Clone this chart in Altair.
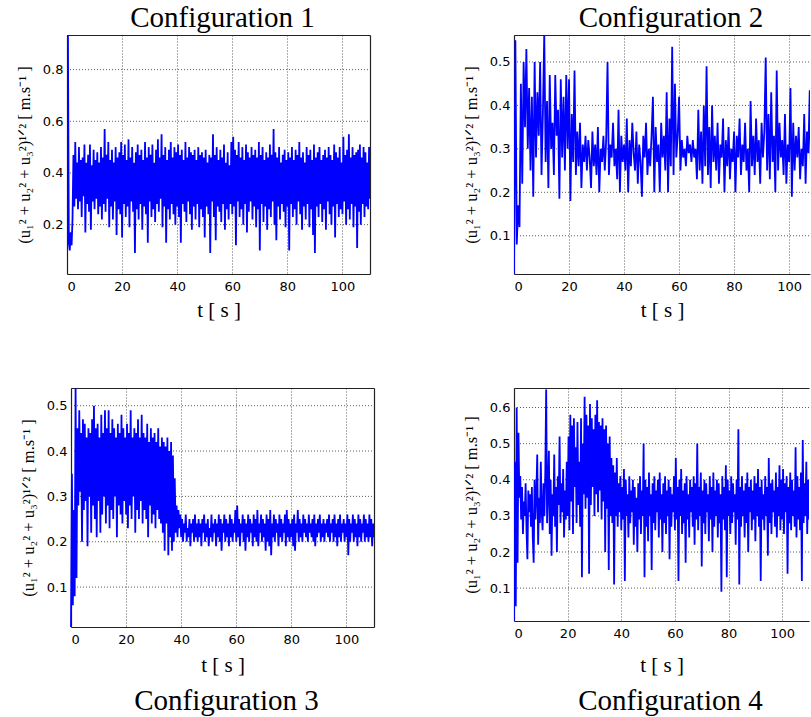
import altair as alt
import pandas as pd

# Velocity magnitude records, sampled uniformly over the run duration.
T_END = 110.0

config1 = [
    0.01, 0.94, 0.13, 0.10, 0.17, 0.12, 0.22, 0.47, 0.27, 0.52, 0.30, 0.44, 0.26, 0.50, 0.29, 0.45, 0.23, 0.46, 0.31, 0.51,
    0.17, 0.44, 0.28, 0.47, 0.25, 0.51, 0.18, 0.43, 0.29, 0.49, 0.26, 0.45, 0.30, 0.48, 0.24, 0.44, 0.27, 0.50, 0.22, 0.46,
    0.28, 0.57, 0.25, 0.47, 0.30, 0.52, 0.19, 0.45, 0.27, 0.49, 0.22, 0.44, 0.29, 0.50, 0.16, 0.46, 0.26, 0.48, 0.24, 0.52,
    0.15, 0.47, 0.28, 0.51, 0.23, 0.45, 0.27, 0.53, 0.19, 0.46, 0.29, 0.50, 0.25, 0.44, 0.09, 0.48, 0.26, 0.51, 0.22, 0.47,
    0.28, 0.49, 0.18, 0.45, 0.27, 0.52, 0.24, 0.46, 0.13, 0.50, 0.29, 0.47, 0.23, 0.51, 0.26, 0.44, 0.21, 0.49, 0.28, 0.53,
    0.25, 0.46, 0.30, 0.55, 0.19, 0.47, 0.27, 0.50, 0.13, 0.45, 0.26, 0.49, 0.22, 0.52, 0.28, 0.46, 0.24, 0.50, 0.20, 0.48,
    0.27, 0.51, 0.23, 0.47, 0.13, 0.49, 0.28, 0.45, 0.25, 0.52, 0.21, 0.46, 0.29, 0.50, 0.24, 0.48, 0.18, 0.47, 0.27, 0.49,
    0.22, 0.45, 0.28, 0.50, 0.19, 0.47, 0.26, 0.48, 0.23, 0.46, 0.15, 0.49, 0.27, 0.44, 0.24, 0.47, 0.09, 0.46, 0.29, 0.55,
    0.23, 0.47, 0.14, 0.50, 0.27, 0.45, 0.25, 0.49, 0.21, 0.46, 0.28, 0.51, 0.18, 0.44, 0.26, 0.48, 0.22, 0.43, 0.28, 0.52,
    0.24, 0.54, 0.27, 0.49, 0.12, 0.47, 0.29, 0.52, 0.23, 0.46, 0.26, 0.50, 0.20, 0.45, 0.28, 0.51, 0.17, 0.48, 0.25, 0.46,
    0.29, 0.50, 0.22, 0.47, 0.27, 0.49, 0.19, 0.46, 0.26, 0.52, 0.10, 0.47, 0.28, 0.50, 0.21, 0.45, 0.27, 0.48, 0.18, 0.46,
    0.26, 0.51, 0.23, 0.47, 0.29, 0.57, 0.20, 0.48, 0.14, 0.46, 0.27, 0.50, 0.22, 0.44, 0.28, 0.47, 0.25, 0.49, 0.19, 0.45,
    0.27, 0.48, 0.10, 0.46, 0.28, 0.50, 0.23, 0.45, 0.26, 0.49, 0.20, 0.47, 0.29, 0.52, 0.24, 0.46, 0.18, 0.48, 0.27, 0.44,
    0.22, 0.50, 0.28, 0.47, 0.19, 0.49, 0.26, 0.45, 0.16, 0.51, 0.09, 0.46, 0.27, 0.48, 0.23, 0.50, 0.28, 0.45, 0.21, 0.47,
    0.26, 0.49, 0.18, 0.46, 0.29, 0.50, 0.24, 0.47, 0.20, 0.45, 0.27, 0.51, 0.15, 0.48, 0.28, 0.46, 0.23, 0.50, 0.26, 0.44,
    0.24, 0.54, 0.29, 0.47, 0.20, 0.49, 0.26, 0.55, 0.22, 0.46, 0.28, 0.50, 0.19, 0.47, 0.27, 0.48, 0.11, 0.49, 0.25, 0.51,
    0.20, 0.46, 0.28, 0.50, 0.23, 0.48, 0.27, 0.44, 0.26, 0.50, 0.30,
]

config2 = [
    0.01, 0.55, 0.08, 0.17, 0.12, 0.45, 0.22, 0.50, 0.35, 0.53, 0.30, 0.44, 0.25, 0.42, 0.19, 0.50, 0.28, 0.43, 0.33, 0.50,
    0.24, 0.38, 0.565, 0.27, 0.41, 0.21, 0.47, 0.30, 0.36, 0.24, 0.47, 0.33, 0.39, 0.185, 0.46, 0.28, 0.42, 0.25, 0.47, 0.30,
    0.46, 0.18, 0.38, 0.27, 0.48, 0.24, 0.34, 0.26, 0.36, 0.21, 0.31, 0.27, 0.33, 0.25, 0.32, 0.28, 0.21, 0.34, 0.26, 0.31,
    0.24, 0.35, 0.20, 0.30, 0.27, 0.33, 0.25, 0.32, 0.50, 0.24, 0.31, 0.28, 0.36, 0.26, 0.30, 0.23, 0.39, 0.20, 0.33, 0.27,
    0.31, 0.25, 0.37, 0.20, 0.32, 0.26, 0.36, 0.29, 0.25, 0.34, 0.22, 0.31, 0.27, 0.19, 0.33, 0.28, 0.36, 0.24, 0.30, 0.26,
    0.33, 0.42, 0.20, 0.35, 0.27, 0.31, 0.20, 0.36, 0.28, 0.33, 0.25, 0.43, 0.20, 0.37, 0.26, 0.535, 0.24, 0.45, 0.28, 0.33,
    0.42, 0.25, 0.32, 0.28, 0.30, 0.26, 0.33, 0.29, 0.31, 0.27, 0.32, 0.28, 0.30, 0.23, 0.39, 0.25, 0.34, 0.22, 0.40, 0.26,
    0.49, 0.24, 0.35, 0.21, 0.40, 0.27, 0.33, 0.25, 0.36, 0.22, 0.31, 0.28, 0.37, 0.20, 0.32, 0.26, 0.35, 0.23, 0.30, 0.27,
    0.34, 0.20, 0.33, 0.28, 0.37, 0.24, 0.31, 0.27, 0.36, 0.25, 0.30, 0.20, 0.41, 0.26, 0.33, 0.24, 0.37, 0.27, 0.32, 0.22,
    0.36, 0.28, 0.34, 0.51, 0.25, 0.38, 0.23, 0.43, 0.27, 0.33, 0.20, 0.48, 0.25, 0.36, 0.28, 0.32, 0.24, 0.38, 0.22, 0.31,
    0.27, 0.44, 0.19, 0.36, 0.25, 0.33, 0.28, 0.35, 0.23, 0.30, 0.26, 0.38, 0.22, 0.34, 0.29, 0.435, 0.23, 0.33, 0.28, 0.31,
    0.29,
]

config3 = [
    0.01, 0.35, 0.06, 0.27, 0.08, 0.54, 0.12, 0.45, 0.28, 0.49, 0.31, 0.44, 0.20, 0.47, 0.27, 0.46, 0.29, 0.43, 0.19, 0.45,
    0.30, 0.44, 0.22, 0.47, 0.28, 0.50, 0.25, 0.45, 0.21, 0.46, 0.29, 0.43, 0.22, 0.48, 0.26, 0.44, 0.30, 0.49, 0.24, 0.45,
    0.28, 0.49, 0.23, 0.44, 0.27, 0.47, 0.25, 0.45, 0.30, 0.43, 0.21, 0.46, 0.28, 0.44, 0.26, 0.48, 0.24, 0.45, 0.29, 0.43,
    0.26, 0.46, 0.23, 0.44, 0.28, 0.49, 0.25, 0.43, 0.30, 0.45, 0.22, 0.44, 0.27, 0.47, 0.25, 0.43, 0.29, 0.48, 0.24, 0.44,
    0.27, 0.43, 0.25, 0.46, 0.21, 0.42, 0.28, 0.45, 0.24, 0.43, 0.26, 0.44, 0.23, 0.42, 0.27, 0.45, 0.25, 0.41, 0.24, 0.43,
    0.22, 0.42, 0.18, 0.41, 0.24, 0.43, 0.17, 0.40, 0.21, 0.42, 0.18, 0.39, 0.20, 0.34, 0.22, 0.28, 0.21, 0.27, 0.23, 0.26,
    0.21, 0.25, 0.20, 0.24, 0.22, 0.26, 0.20, 0.23, 0.21, 0.25, 0.19, 0.24, 0.22, 0.25, 0.20, 0.26, 0.21, 0.24, 0.20, 0.25,
    0.21, 0.24, 0.19, 0.25, 0.22, 0.26, 0.20, 0.24, 0.21, 0.25, 0.19, 0.23, 0.21, 0.26, 0.20, 0.24, 0.22, 0.25, 0.19, 0.24,
    0.21, 0.26, 0.20, 0.25, 0.18, 0.24, 0.22, 0.26, 0.20, 0.25, 0.21, 0.24, 0.19, 0.26, 0.21, 0.25, 0.20, 0.24, 0.22, 0.27,
    0.20, 0.28, 0.21, 0.25, 0.19, 0.24, 0.22, 0.26, 0.20, 0.25, 0.18, 0.24, 0.21, 0.26, 0.20, 0.25, 0.22, 0.24, 0.19, 0.26,
    0.21, 0.25, 0.20, 0.27, 0.19, 0.24, 0.22, 0.26, 0.20, 0.25, 0.21, 0.24, 0.18, 0.26, 0.20, 0.25, 0.19, 0.27, 0.17, 0.24,
    0.21, 0.26, 0.20, 0.25, 0.22, 0.24, 0.19, 0.26, 0.21, 0.25, 0.20, 0.24, 0.22, 0.26, 0.19, 0.27, 0.21, 0.25, 0.20, 0.24,
    0.21, 0.25, 0.19, 0.26, 0.18, 0.24, 0.22, 0.27, 0.20, 0.25, 0.21, 0.24, 0.20, 0.26, 0.22, 0.25, 0.21, 0.24, 0.20, 0.26,
    0.22, 0.24, 0.21, 0.25, 0.20, 0.26, 0.19, 0.24, 0.21, 0.25, 0.22, 0.26, 0.20, 0.24, 0.21, 0.25, 0.20, 0.24, 0.22, 0.25,
    0.21, 0.26, 0.20, 0.24, 0.22, 0.25, 0.20, 0.26, 0.21, 0.24, 0.19, 0.25, 0.21, 0.26, 0.20, 0.24, 0.22, 0.25, 0.20, 0.24,
    0.21, 0.26, 0.17, 0.25, 0.20, 0.24, 0.22, 0.26, 0.20, 0.25, 0.21, 0.24, 0.19, 0.26, 0.21, 0.25, 0.20, 0.24, 0.22, 0.26,
    0.20, 0.25, 0.21, 0.24, 0.20, 0.26, 0.21, 0.25, 0.19, 0.24, 0.21,
]

config4 = [
    0.01, 0.45, 0.05, 0.60, 0.17, 0.53, 0.35, 0.41, 0.29, 0.38, 0.25, 0.34, 0.30, 0.39, 0.26, 0.18, 0.37, 0.31, 0.36, 0.27,
    0.38, 0.24, 0.17, 0.40, 0.29, 0.36, 0.47, 0.22, 0.35, 0.28, 0.45, 0.31, 0.26, 0.39, 0.30, 0.42, 0.65, 0.28, 0.37, 0.48,
    0.25, 0.40, 0.19, 0.36, 0.30, 0.47, 0.27, 0.38, 0.20, 0.41, 0.33, 0.52, 0.28, 0.39, 0.31, 0.43, 0.24, 0.37, 0.29, 0.45,
    0.30, 0.52, 0.26, 0.58, 0.34, 0.55, 0.25, 0.57, 0.38, 0.49, 0.28, 0.56, 0.33, 0.45, 0.27, 0.57, 0.13, 0.50, 0.36, 0.63,
    0.32, 0.58, 0.35, 0.55, 0.14, 0.61, 0.33, 0.57, 0.38, 0.54, 0.30, 0.58, 0.36, 0.62, 0.31, 0.56, 0.37, 0.55, 0.29, 0.57,
    0.34, 0.54, 0.20, 0.55, 0.32, 0.50, 0.15, 0.52, 0.30, 0.46, 0.28, 0.44, 0.11, 0.42, 0.30, 0.46, 0.27, 0.39, 0.31, 0.41,
    0.26, 0.38, 0.29, 0.43, 0.12, 0.40, 0.30, 0.36, 0.24, 0.41, 0.28, 0.37, 0.31, 0.40, 0.22, 0.38, 0.27, 0.35, 0.20, 0.39,
    0.29, 0.41, 0.25, 0.37, 0.30, 0.50, 0.13, 0.40, 0.27, 0.38, 0.23, 0.42, 0.30, 0.36, 0.15, 0.39, 0.28, 0.41, 0.26, 0.37,
    0.31, 0.40, 0.24, 0.42, 0.29, 0.36, 0.20, 0.39, 0.28, 0.41, 0.25, 0.37, 0.30, 0.40, 0.18, 0.38, 0.27, 0.36, 0.31, 0.41,
    0.26, 0.46, 0.29, 0.38, 0.12, 0.40, 0.30, 0.43, 0.25, 0.37, 0.28, 0.39, 0.17, 0.41, 0.29, 0.36, 0.24, 0.40, 0.31, 0.38,
    0.27, 0.41, 0.22, 0.39, 0.29, 0.50, 0.26, 0.38, 0.30, 0.42, 0.16, 0.37, 0.28, 0.40, 0.25, 0.39, 0.31, 0.36, 0.23, 0.41,
    0.29, 0.38, 0.20, 0.42, 0.27, 0.37, 0.30, 0.40, 0.24, 0.39, 0.28, 0.36, 0.09, 0.41, 0.29, 0.38, 0.26, 0.44, 0.13, 0.40,
    0.30, 0.37, 0.25, 0.41, 0.28, 0.39, 0.31, 0.36, 0.22, 0.40, 0.29, 0.54, 0.11, 0.38, 0.27, 0.41, 0.30, 0.37, 0.24, 0.39,
    0.28, 0.42, 0.20, 0.38, 0.31, 0.40, 0.26, 0.37, 0.29, 0.41, 0.23, 0.39, 0.30, 0.43, 0.27, 0.38, 0.12, 0.40, 0.29, 0.36,
    0.26, 0.41, 0.30, 0.38, 0.19, 0.46, 0.28, 0.39, 0.25, 0.40, 0.31, 0.37, 0.27, 0.42, 0.24, 0.38, 0.30, 0.44, 0.26, 0.40,
    0.29, 0.43, 0.25, 0.39, 0.31, 0.41, 0.14, 0.38, 0.28, 0.42, 0.26, 0.40, 0.30, 0.37, 0.27, 0.49, 0.24, 0.41, 0.29, 0.38,
    0.26, 0.42, 0.12, 0.51, 0.28, 0.39, 0.30, 0.45, 0.25, 0.40, 0.29,
]

X_TICKS = [0, 20, 40, 60, 80, 100]
X_TITLE = "t [ s ]"
Y_TITLE = "(u₁² + u₂² + u₃²)¹ᐟ² [ m.s⁻¹ ]"

SERIF = "Liberation Serif"
BLUE = "#0000ff"
EDGE = "#222222"
GRID = "#333333"


def series_frame(values):
    n = len(values)
    return pd.DataFrame({"t": [T_END * i / (n - 1) for i in range(n)], "u": values})


def edge_axis(orient):
    return alt.Axis(orient=orient, labels=False, ticks=False, grid=False, title=None,
                    domain=True)


def panel(values, title, title_orient, title_dx, title_offset, x_max, y_domain, y_ticks,
          width, height, open_right, x_title_pad, inset=0):
    df = series_frame(values)
    x_scale = alt.Scale(domain=[0, x_max], range=[inset, width], nice=False, zero=False)
    y_scale = alt.Scale(domain=y_domain, nice=False, zero=False)
    y_frame = pd.DataFrame({"v": y_ticks})
    x_frame = pd.DataFrame({"t": X_TICKS})

    # horizontal dotted grid, limited to the plotting range of the time axis
    y_grid = alt.Chart(y_frame).mark_rule(
        color=GRID, strokeDash=[1, 2], strokeWidth=0.8
    ).encode(
        y=alt.Y("v:Q", scale=y_scale, axis=None),
        x=alt.XDatum(0, scale=x_scale, axis=None),
        x2=alt.datum(x_max),
    )

    line = alt.Chart(df).mark_line(color=BLUE, strokeWidth=1.8, clip=True).encode(
        x=alt.X("t:Q", scale=x_scale,
                axis=alt.Axis(orient="bottom", values=X_TICKS, format="d", title=X_TITLE,
                              titleFontSize=21, titlePadding=x_title_pad, labelPadding=6,
                              grid=True)),
        y=alt.Y("u:Q", scale=y_scale,
                axis=alt.Axis(orient="left", values=y_ticks, format=".1f", title=Y_TITLE,
                              titleFontSize=16.5, titlePadding=10, labelPadding=4,
                              grid=False, offset=-inset)),
    )

    top_edge = alt.Chart(x_frame).mark_rule(opacity=0).encode(
        x=alt.X("t:Q", scale=x_scale, axis=edge_axis("top"))
    )
    layers = [y_grid, line, top_edge]
    if not open_right:
        right_edge = alt.Chart(y_frame).mark_rule(opacity=0).encode(
            y=alt.Y("v:Q", scale=y_scale, axis=edge_axis("right"))
        )
        layers.append(right_edge)

    head = alt.TitleParams(text=title, orient=title_orient, anchor="middle", dx=title_dx,
                           offset=title_offset, font=SERIF, fontSize=29,
                           fontWeight="normal", color="black")

    return alt.layer(*layers).resolve_axis(x="independent", y="independent").properties(
        width=width, height=height, title=head
    )


p1 = panel(config1, "Configuration 1", "top", 4, 2, 110, [0.009, 0.934],
           [0.2, 0.4, 0.6, 0.8], 303, 239, False, 6)
p2 = panel(config2, "Configuration 2", "top", 9, 2, 107.6, [0.012, 0.562],
           [0.1, 0.2, 0.3, 0.4, 0.5], 296, 239, True, 6)
p3 = panel(config3, "Configuration 3", "bottom", 6, 12, 110, [0.012, 0.539],
           [0.1, 0.2, 0.3, 0.4, 0.5], 307, 239, False, 8, inset=4)
p4 = panel(config4, "Configuration 4", "bottom", 9, 12, 110, [0.009, 0.654],
           [0.1, 0.2, 0.3, 0.4, 0.5, 0.6], 295, 233, True, 14)

chart = alt.concat(
    p1, p2, p3, p4, columns=2, spacing={"row": 114, "column": 140}, bounds="flush"
).properties(
    padding={"left": 16, "top": 4, "right": 0, "bottom": 0}
).configure_axis(
    labelFont="DejaVu Sans", labelFontSize=13, labelColor="black",
    titleFont=SERIF, titleFontWeight="normal", titleColor="black",
    gridColor=GRID, gridDash=[1, 2], gridWidth=0.8, gridOpacity=1,
    ticks=False, domainColor=EDGE, domainWidth=1.2,
).configure_view(
    stroke=None
)

chart.save("out.html", embed_options={"renderer": "svg", "actions": False})
